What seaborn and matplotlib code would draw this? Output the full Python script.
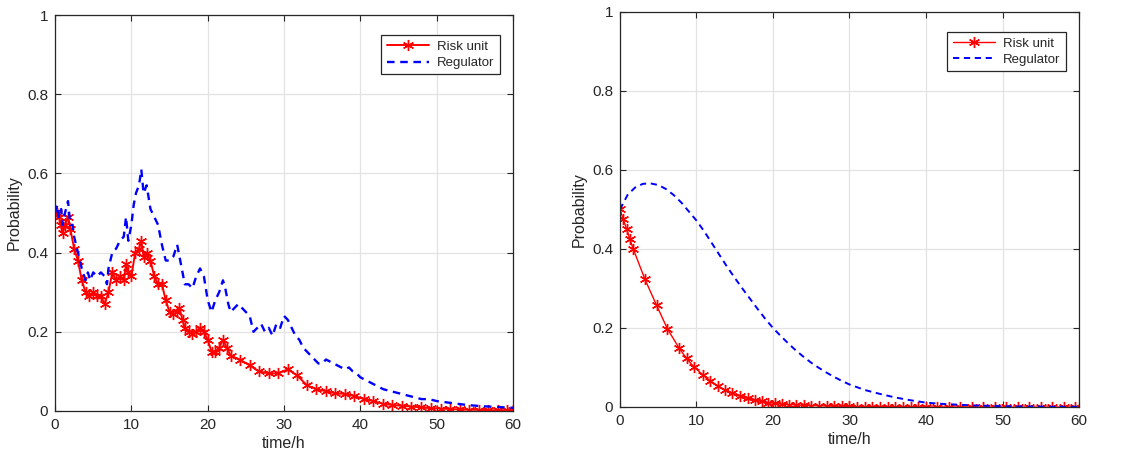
import numpy as np
import pandas as pd
import matplotlib
matplotlib.use("Agg")
import matplotlib.pyplot as plt
import seaborn as sns

# left panel: stochastic run
t_risk_left = [0, 0.3, 0.5, 0.8, 1.0, 1.3, 1.7, 2.0, 2.5, 3.0, 3.5, 4.0, 4.5, 5.0, 5.5, 6.0,
               6.5, 7.0, 7.5, 8.0, 8.5, 9.0, 9.3, 9.6, 10.0, 10.5, 11.0, 11.3, 11.6, 12.0,
               12.5, 13.0, 13.5, 14.0, 14.5, 15.0, 15.5, 16.0, 16.3, 16.7, 17.0, 17.5, 18.0,
               18.5, 19.0, 19.5, 20.0, 20.5, 21.0, 21.5, 22.0, 22.5, 23.0, 24.2, 25.5, 26.7,
               28.0, 29.2, 30.5, 31.7, 33.0, 34.2, 35.5, 36.7, 38.0, 39.2, 40.5, 41.7, 43.0,
               44.2, 45.5, 46.7, 48.0, 49.2, 50.5, 51.7, 53.0, 54.2, 55.5, 56.7, 58.0, 59.2, 60.0]
p_risk_left = [0.50, 0.50, 0.49, 0.47, 0.45, 0.47, 0.49, 0.46, 0.41, 0.38, 0.33, 0.30, 0.29, 0.30,
               0.29, 0.29, 0.27, 0.30, 0.35, 0.33, 0.34, 0.33, 0.37, 0.35, 0.34, 0.40, 0.41, 0.43,
               0.39, 0.40, 0.38, 0.34, 0.32, 0.32, 0.28, 0.25, 0.245, 0.25, 0.26, 0.23, 0.21,
               0.20, 0.195, 0.20, 0.21, 0.20, 0.18, 0.15, 0.15, 0.16, 0.18, 0.16, 0.14, 0.13,
               0.115, 0.10, 0.095, 0.095, 0.105, 0.09, 0.065, 0.055, 0.05, 0.045, 0.043, 0.038,
               0.03, 0.025, 0.018, 0.015, 0.013, 0.011, 0.009, 0.007, 0.006, 0.005, 0.004,
               0.003, 0.003, 0.002, 0.002, 0.002, 0.002]

t_reg_left = [0, 0.3, 0.5, 0.8, 1.0, 1.3, 1.7, 2.0, 2.3, 2.5, 3.0, 3.5, 4.0, 4.3, 4.6, 5.0, 5.5,
              6.0, 6.5, 6.8, 7.0, 7.5, 8.0, 8.5, 9.0, 9.3, 9.6, 10.0, 10.3, 10.6, 11.0, 11.3,
              11.6, 12.0, 12.5, 13.0, 13.5, 14.0, 14.5, 15.0, 15.5, 16.0, 16.5, 17.0, 17.5,
              18.0, 18.5, 19.0, 19.5, 20.0, 20.5, 21.0, 21.5, 22.0, 22.3, 22.7, 23.0, 23.5,
              24.0, 24.5, 25.0, 25.5, 26.0, 26.5, 27.0, 27.5, 28.0, 28.5, 29.0, 29.5, 30.0,
              30.5, 31.0, 31.5, 32.0, 32.5, 33.0, 33.5, 34.0, 34.5, 35.0, 35.5, 36.0, 36.5,
              37.0, 37.5, 38.0, 38.5, 39.0, 39.5, 40.0, 41, 42, 43, 44, 45, 46, 47, 48, 49,
              50, 52, 54, 56, 58, 60]
p_reg_left = [0.50, 0.52, 0.49, 0.51, 0.47, 0.50, 0.53, 0.47, 0.47, 0.44, 0.40, 0.36, 0.33, 0.35,
              0.33, 0.35, 0.34, 0.35, 0.34, 0.32, 0.36, 0.40, 0.41, 0.43, 0.44, 0.49, 0.43,
              0.47, 0.52, 0.55, 0.57, 0.61, 0.55, 0.57, 0.51, 0.49, 0.47, 0.42, 0.38, 0.38,
              0.39, 0.42, 0.37, 0.32, 0.32, 0.31, 0.34, 0.36, 0.34, 0.28, 0.25, 0.28, 0.30,
              0.33, 0.31, 0.27, 0.25, 0.26, 0.27, 0.26, 0.25, 0.24, 0.20, 0.21, 0.22, 0.20,
              0.21, 0.19, 0.22, 0.21, 0.24, 0.23, 0.21, 0.19, 0.18, 0.16, 0.15, 0.14, 0.13,
              0.12, 0.12, 0.13, 0.125, 0.12, 0.115, 0.11, 0.105, 0.11, 0.10, 0.095, 0.085,
              0.075, 0.065, 0.055, 0.05, 0.045, 0.04, 0.035, 0.03, 0.03, 0.025, 0.02, 0.015,
              0.012, 0.01, 0.008]

# right panel: mean-field solution
t_risk_right = [0, 0.44, 0.87, 1.3, 1.74, 3.27, 4.8, 6.2, 7.7, 8.7, 9.7, 10.8, 11.8, 12.8, 13.7,
                14.7, 15.7, 16.7, 17.6, 18.5, 19.4, 20.3, 21.2, 22.1, 23.0, 24.0, 25.0, 26.0,
                27.0, 28.0, 29.0, 30.0, 31.0, 32.0, 33.0, 34.0, 35.0, 36.0, 37.0, 38.0, 39.0,
                40.0, 41.5, 43.0, 44.5, 46.0, 47.5, 49.0, 50.5, 52.0, 53.5, 55.0, 56.5, 58.0,
                59.5]
p_risk_right = [0.50, 0.475, 0.45, 0.425, 0.40, 0.323, 0.257, 0.198, 0.15, 0.123, 0.101, 0.082,
                0.066, 0.053, 0.043, 0.035, 0.028, 0.022, 0.018, 0.014, 0.011, 0.009, 0.007,
                0.006, 0.005, 0.004, 0.0035, 0.003, 0.0025, 0.002, 0.0017, 0.0014, 0.0012, 0.001,
                0.0008, 0.0007, 0.0006, 0.0005, 0.0004, 0.0003, 0.0003, 0.0002, 0.0002, 0.0001,
                0.0001, 0.0001, 0.0001, 0, 0, 0, 0, 0, 0, 0, 0]

t_reg_right = [0, 1, 2, 3, 4, 5, 6, 7, 8, 9, 10, 11, 12, 13, 14, 15, 16, 17, 18, 19, 20, 21, 22,
               23, 24, 25, 26, 27, 28, 29, 30, 32, 34, 36, 38, 40, 42, 44, 46, 48, 50, 55, 60]
p_reg_right = [0.50, 0.537, 0.556, 0.565, 0.566, 0.562, 0.552, 0.537, 0.518, 0.495, 0.472, 0.445,
               0.415, 0.385, 0.355, 0.327, 0.30, 0.274, 0.248, 0.223, 0.20, 0.18, 0.161, 0.143,
               0.127, 0.112, 0.099, 0.087, 0.076, 0.066, 0.057, 0.043, 0.033, 0.024, 0.017,
               0.011, 0.008, 0.006, 0.004, 0.003, 0.002, 0.001, 0.0005]

sns.set_theme(style="ticks")
plt.rcParams['font.family'] = ['Liberation Sans', 'DejaVu Sans']

fig = plt.figure(figsize=(11.28, 4.59), dpi=100)
ax1 = fig.add_axes([0.0488, 0.1046, 0.406, 0.8627])
ax2 = fig.add_axes([0.5496, 0.1133, 0.407, 0.8606])

star = (6, 2, 0)

panels = [
    (ax1, t_risk_left, p_risk_left, t_reg_left, p_reg_left, 1.4, 1.7),
    (ax2, t_risk_right, p_risk_right, t_reg_right, p_reg_right, 1.0, 1.4),
]

for ax, tr, pr, tg, pg, lw_r, lw_b in panels:
    sns.lineplot(x=tr, y=pr, ax=ax, color='#ff0000', linewidth=lw_r, marker=star,
                 markersize=8, markeredgewidth=1.0, markeredgecolor='#ff0000',
                 label='Risk unit', sort=False)
    sns.lineplot(x=tg, y=pg, ax=ax, color='#0000ff', linewidth=lw_b,
                 linestyle=(0, (3.2, 2.4)), label='Regulator', sort=False)
    ax.set_xlim(0, 60)
    ax.set_ylim(0, 1)
    ax.set_xticks([0, 10, 20, 30, 40, 50, 60])
    ax.set_yticks([0, 0.2, 0.4, 0.6, 0.8, 1])
    ax.set_yticklabels(['0', '0.2', '0.4', '0.6', '0.8', '1'])
    ax.grid(True, color='#e3e3e3', linewidth=0.9)
    ax.set_axisbelow(True)
    ax.tick_params(direction='in', length=4, width=0.8, colors='#262626',
                   labelsize=11, top=True, right=True, pad=5)
    for sp in ax.spines.values():
        sp.set_visible(True)
        sp.set_color('#262626')
        sp.set_linewidth(0.9)
    ax.set_xlabel('time/h', fontsize=11.5, color='#262626', labelpad=3)
    ax.set_ylabel('Probability', fontsize=11.5, color='#262626', labelpad=4)
    leg = ax.legend(loc='upper right', fontsize=9.5, frameon=True, fancybox=False,
                    edgecolor='#262626', framealpha=1, borderpad=0.4, handlelength=3.2,
                    handletextpad=0.6, labelspacing=0.3, bbox_to_anchor=(0.985, 0.965))
    leg.get_frame().set_linewidth(0.9)

fig.savefig('out.png', dpi=100)
